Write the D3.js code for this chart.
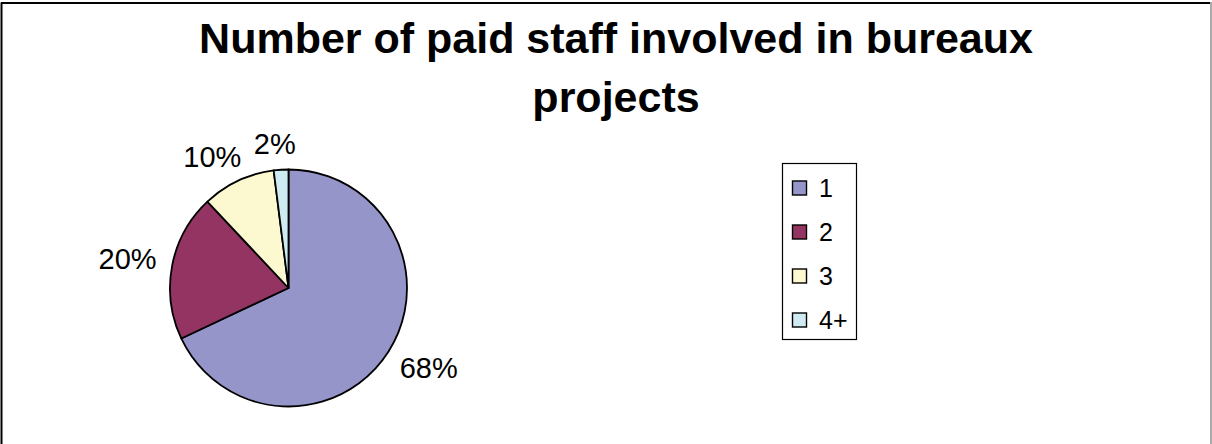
<!DOCTYPE html>
<html>
<head>
<meta charset="utf-8">
<script src="https://cdn.jsdelivr.net/npm/d3@7"></script>
<style>
  html, body { margin: 0; padding: 0; background: #fff; }
  svg { display: block; font-family: Arial, "Liberation Sans", sans-serif; }
</style>
</head>
<body>
<svg id="chart" width="1212" height="444"></svg>
<script>
// Staff counts per bureau project and their share (percent)
const categories = ["1", "2", "3", "4+"];
const shares = [68, 20, 10, 2];
const sliceColors = ["#9595C9", "#933462", "#FCF9D0", "#CDEBF0"];
const titleLines = ["Number of paid staff involved in bureaux", "projects"];

const svg = d3.select("#chart");
const W = 1212, H = 444;

// Chart area frame
const frame = svg.append("g").attr("fill", "none");
frame.append("line").attr("x1", 1.5).attr("y1", 2.5).attr("x2", 1.5).attr("y2", H)
  .attr("stroke", "#000").attr("stroke-width", 2);
frame.append("line").attr("x1", 1).attr("y1", 3).attr("x2", W - 1).attr("y2", 3)
  .attr("stroke", "#000").attr("stroke-width", 2);
frame.append("line").attr("x1", W - 1).attr("y1", 2).attr("x2", W - 1).attr("y2", H)
  .attr("stroke", "#aaa").attr("stroke-width", 2);

// Title
const title = svg.append("text")
  .attr("text-anchor", "middle")
  .attr("font-weight", "bold")
  .attr("font-size", 43)
  .attr("fill", "#000");
titleLines.forEach((t, i) => {
  title.append("tspan").attr("x", 616).attr("y", 53 + i * 59).text(t);
});

// Pie
const cx = 288.5, cy = 288, r = 118.5;
const labelSize = 29;
const data = categories.map((c, i) => ({ cat: c, value: shares[i], color: sliceColors[i] }));
const pie = d3.pie().value(d => d.value).sort(null);
const arcs = pie(data);
const arc = d3.arc().innerRadius(0).outerRadius(r);

const g = svg.append("g").attr("transform", `translate(${cx},${cy})`);
g.selectAll("path.slice")
  .data(arcs)
  .join("path")
  .attr("class", "slice")
  .attr("d", arc)
  .attr("fill", d => d.data.color)
  .attr("stroke", "#000")
  .attr("stroke-width", 1.8)
  .attr("stroke-linejoin", "round");

// Percentage labels: placed just outside the rim, pushed outward by part of the text box
const labels = g.selectAll("text.pct")
  .data(arcs)
  .join("text")
  .attr("class", "pct")
  .attr("text-anchor", "middle")
  .attr("font-size", labelSize)
  .attr("fill", "#000")
  .text(d => d.data.value + "%");

const push = v => Math.sign(v) * Math.sqrt(Math.abs(v));
labels.each(function (d) {
  const a = (d.startAngle + d.endAngle) / 2;
  const ux = Math.sin(a), uy = -Math.cos(a);
  const w = this.getComputedTextLength();
  const h = labelSize * 0.72;
  const R0 = r + 16;
  const x = ux * R0 + push(ux) * w / 2;
  const y = uy * R0 + push(uy) * h / 2 + h / 2;
  d3.select(this).attr("x", x).attr("y", y);
});

// Legend
const lx = 782, ly = 163, lw = 74, lh = 176;
svg.append("rect")
  .attr("x", lx + 0.5).attr("y", ly + 0.5)
  .attr("width", lw).attr("height", lh)
  .attr("fill", "#fff").attr("stroke", "#000").attr("stroke-width", 1.2);

const leg = svg.append("g");
const rowY = d3.scalePoint().domain(categories).range([ly + 25, ly + 157]);
const items = leg.selectAll("g.item").data(data).join("g").attr("class", "item")
  .attr("transform", d => `translate(${lx + 10},${rowY(d.cat)})`);
items.append("rect")
  .attr("x", 0.5).attr("y", -7)
  .attr("width", 14).attr("height", 14)
  .attr("fill", d => d.color)
  .attr("stroke", "#000").attr("stroke-width", 1.4);
items.append("text")
  .attr("x", 27).attr("y", 0)
  .attr("dy", "0.36em")
  .attr("font-size", 25)
  .attr("fill", "#000")
  .text(d => d.cat);
</script>
</body>
</html>
